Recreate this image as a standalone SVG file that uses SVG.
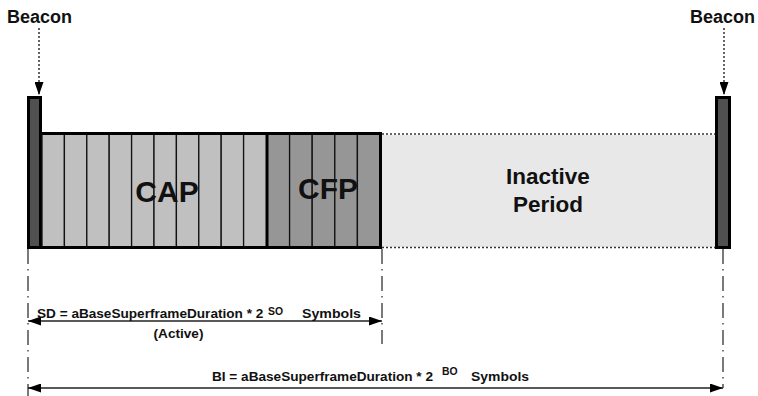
<svg xmlns="http://www.w3.org/2000/svg" width="758" height="396" viewBox="0 0 758 396">
  <style>
    text { font-family: "Liberation Sans", Arial, sans-serif; font-weight: bold; fill: #111; }
    .beacon-label { font-size: 18px; }
    .big { font-size: 30px; text-anchor: middle; }
    .mid { font-size: 22.5px; text-anchor: middle; }
    .formula { font-size: 13.6px; }
    .sup { font-size: 10.4px; }
    .bar { fill: #505050; stroke: #000; stroke-width: 3; }
    .cap { fill: #c0c0c0; stroke: #111; stroke-width: 1.3; }
    .cfp { fill: #969696; stroke: #111; stroke-width: 1.3; }
    .frame { fill: none; stroke: #000; stroke-width: 3; }
    .dotted { stroke: #333; stroke-width: 1.5; stroke-dasharray: 2 2; fill: none; }
    .dashdot { stroke: #333; stroke-width: 1.3; stroke-dasharray: 15 5 1.5 5.5; fill: none; }
    .dim { stroke: #222; stroke-width: 1.6; fill: none; }
  </style>
  <defs>
    <marker id="head" markerUnits="userSpaceOnUse" markerWidth="13" markerHeight="9" refX="13" refY="4.5" orient="auto-start-reverse">
      <path d="M0,0 L13,4.5 L0,9 z" fill="#000"/>
    </marker>
    <marker id="drop" markerUnits="userSpaceOnUse" markerWidth="9" markerHeight="13" refX="4.5" refY="13" orient="0">
      <path d="M0,0 L9,0 L4.5,13 z" fill="#000"/>
    </marker>
  </defs>

  <!-- Beacon at start of superframe -->
  <g id="beacon-left">
    <text class="beacon-label" x="7" y="23">Beacon</text>
    <rect class="bar" x="28.5" y="97.5" width="12" height="150"/>
  </g>

  <!-- Contention access period: 10 slots -->
  <g id="cap">
    <rect class="cap" x="42" y="134" width="22.4" height="113"/>
    <rect class="cap" x="64.4" y="134" width="22.4" height="113"/>
    <rect class="cap" x="86.8" y="134" width="22.4" height="113"/>
    <rect class="cap" x="109.2" y="134" width="22.4" height="113"/>
    <rect class="cap" x="131.6" y="134" width="22.4" height="113"/>
    <rect class="cap" x="154" y="134" width="22.4" height="113"/>
    <rect class="cap" x="176.4" y="134" width="22.4" height="113"/>
    <rect class="cap" x="198.8" y="134" width="22.4" height="113"/>
    <rect class="cap" x="221.2" y="134" width="22.4" height="113"/>
    <rect class="cap" x="243.6" y="134" width="23.4" height="113"/>
    <text class="big" x="167" y="201.5">CAP</text>
  </g>

  <!-- Contention free period: 5 slots -->
  <g id="cfp">
    <rect class="cfp" x="267" y="134" width="22.6" height="113"/>
    <rect class="cfp" x="289.6" y="134" width="22.6" height="113"/>
    <rect class="cfp" x="312.2" y="134" width="22.6" height="113"/>
    <rect class="cfp" x="334.8" y="134" width="22.6" height="113"/>
    <rect class="cfp" x="357.4" y="134" width="22.6" height="113"/>
    <text class="big" x="328" y="199">CFP</text>
  </g>

  <!-- Active portion outline -->
  <g id="active-frame">
    <path class="frame" d="M41,133.5 H380.5 V247.5 H41"/>
    <line class="frame" x1="267" y1="133.5" x2="267" y2="247.5" stroke-width="2.5"/>
  </g>

  <!-- Inactive period -->
  <g id="inactive">
    <rect x="382" y="135" width="334" height="112" fill="#e8e8e8"/>
    <line class="dotted" x1="382" y1="134" x2="716" y2="134"/>
    <line class="dotted" x1="382" y1="247.5" x2="716" y2="247.5"/>
    <text class="mid" x="548" y="183.5">Inactive</text>
    <text class="mid" x="548" y="212">Period</text>
  </g>

  <!-- Beacon at start of next superframe -->
  <g id="beacon-right">
    <text class="beacon-label" x="690" y="23">Beacon</text>
    <rect class="bar" x="716.5" y="97.5" width="13" height="150"/>
  </g>

  <!-- Connectors: beacon arrows, extension lines, dimension arrows -->
  <g id="connectors">
    <line class="dotted" x1="39" y1="28" x2="39" y2="95" marker-end="url(#drop)"/>
    <line class="dotted" x1="724" y1="28" x2="724" y2="95" marker-end="url(#drop)"/>

    <line class="dashdot" x1="28" y1="249" x2="28" y2="396"/>
    <line class="dashdot" x1="382" y1="249" x2="382" y2="344"/>
    <line class="dashdot" x1="723" y1="249" x2="723" y2="388"/>

    <line class="dim" x1="28" y1="321" x2="382" y2="321" marker-start="url(#head)" marker-end="url(#head)"/>
    <line class="dim" x1="28" y1="388" x2="723" y2="388" marker-start="url(#head)" marker-end="url(#head)"/>
  </g>

  <!-- Duration labels -->
  <g id="sd-label">
    <text class="formula" x="37" y="318">SD = aBaseSuperframeDuration * 2</text>
    <text class="sup" x="268" y="315">SO</text>
    <text class="formula" x="302" y="318" textLength="59" lengthAdjust="spacingAndGlyphs">Symbols</text>
    <text class="formula" x="178.5" y="338" text-anchor="middle">(Active)</text>
  </g>
  <g id="bi-label">
    <text class="formula" x="212" y="380.5">BI = aBaseSuperframeDuration * 2</text>
    <text class="sup" x="442" y="374.5">BO</text>
    <text class="formula" x="471" y="380.5" textLength="58" lengthAdjust="spacingAndGlyphs">Symbols</text>
  </g>
</svg>
